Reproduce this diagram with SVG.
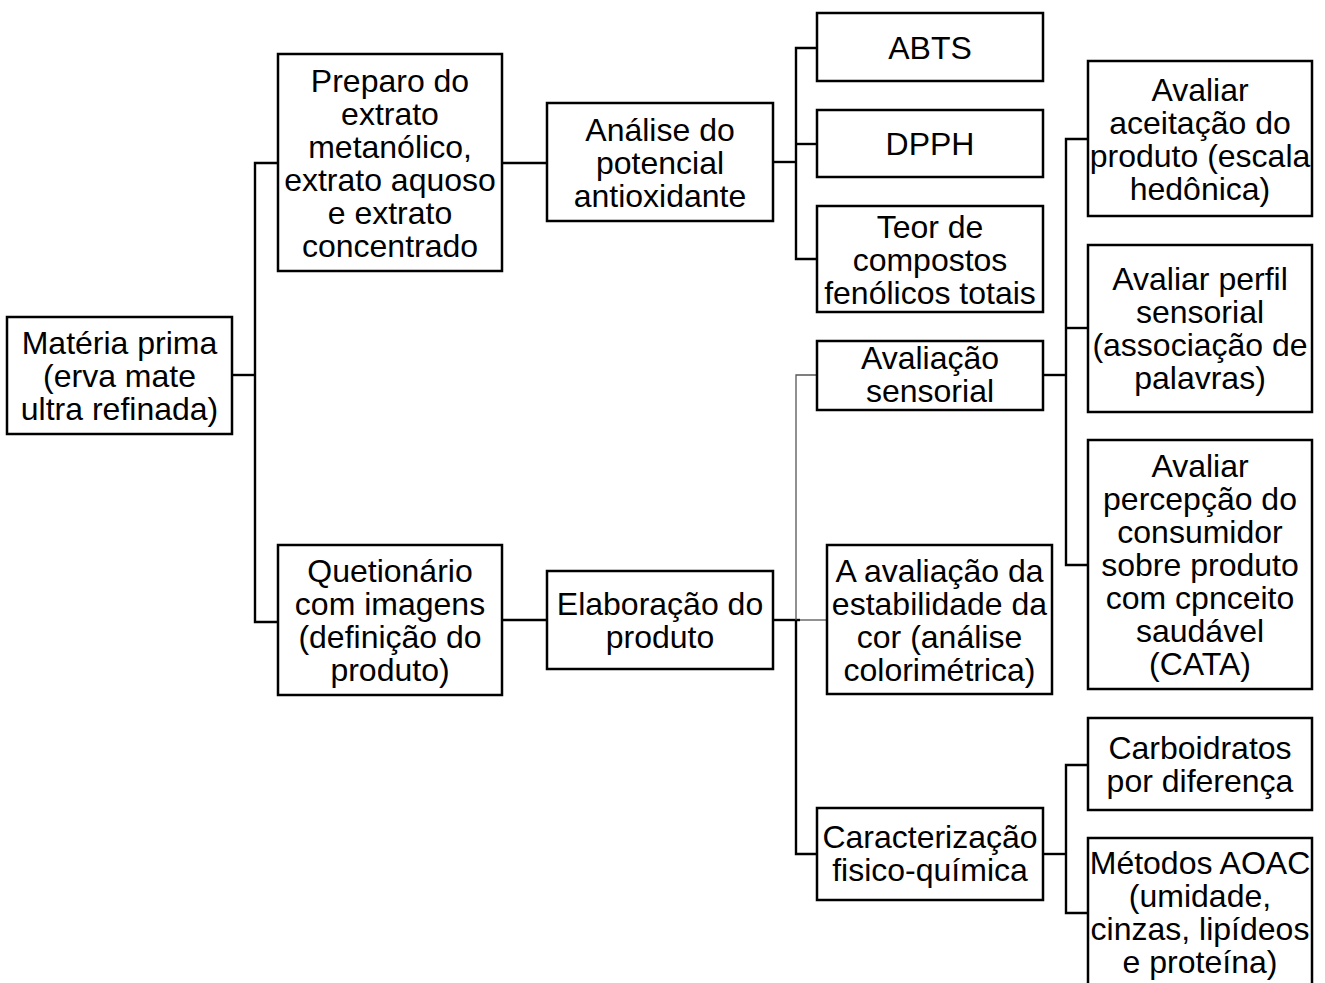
<svg xmlns="http://www.w3.org/2000/svg" width="1325" height="983" viewBox="0 0 1325 983">
<style>
.box{fill:#fff;stroke:#000;stroke-width:2.5}
.t{font-family:"Liberation Sans",Arial,sans-serif;font-size:32px;fill:#000;text-anchor:middle}
.c{fill:none;stroke:#000;stroke-width:2.4}
.thin{fill:none;stroke:#555;stroke-width:1.3}
</style>
<rect width="1325" height="983" fill="#fff"/>
<g id="connectors">
<polyline class="c" points="232,375 255,375"/>
<polyline class="c" points="278,163 255,163 255,622 278,622"/>
<polyline class="c" points="502,163 547,163"/>
<polyline class="c" points="502,620 547,620"/>
<polyline class="c" points="773,162 796,162"/>
<polyline class="c" points="817,48 796,48 796,259 817,259"/>
<polyline class="c" points="796,144 817,144"/>
<polyline class="c" points="773,620 800,620"/>
<polyline class="thin" points="800,620 827,620"/>
<polyline class="thin" points="817,375 796,375 796,620"/>
<polyline class="c" points="796,620 796,854 817,854"/>
<polyline class="c" points="1043,375 1066,375"/>
<polyline class="c" points="1088,139 1066,139 1066,565 1088,565"/>
<polyline class="c" points="1066,328 1088,328"/>
<polyline class="c" points="1043,854 1066,854"/>
<polyline class="c" points="1088,765 1066,765 1066,913 1088,913"/>
</g>
<g id="materia"><rect class="box" x="7" y="317" width="225" height="117"/>
<text class="t" x="119.5" y="353.5">Matéria prima</text><text class="t" x="119.5" y="386.5">(erva mate</text><text class="t" x="119.5" y="419.5">ultra refinada)</text></g>
<g id="preparo"><rect class="box" x="278" y="54" width="224" height="217"/>
<text class="t" x="390" y="91.5">Preparo do</text><text class="t" x="390" y="124.5">extrato</text><text class="t" x="390" y="157.5">metanólico,</text><text class="t" x="390" y="190.5">extrato aquoso</text><text class="t" x="390" y="223.5">e extrato</text><text class="t" x="390" y="256.5">concentrado</text></g>
<g id="questionario"><rect class="box" x="278" y="545" width="224" height="150"/>
<text class="t" x="390" y="582">Quetionário</text><text class="t" x="390" y="615">com imagens</text><text class="t" x="390" y="648">(definição do</text><text class="t" x="390" y="681">produto)</text></g>
<g id="analise"><rect class="box" x="547" y="103" width="226" height="118"/>
<text class="t" x="660" y="140.5">Análise do</text><text class="t" x="660" y="173.5">potencial</text><text class="t" x="660" y="206.5">antioxidante</text></g>
<g id="elaboracao"><rect class="box" x="547" y="571" width="226" height="98"/>
<text class="t" x="660" y="615">Elaboração do</text><text class="t" x="660" y="648">produto</text></g>
<g id="abts"><rect class="box" x="817" y="13" width="226" height="68"/>
<text class="t" x="930" y="58.5">ABTS</text></g>
<g id="dpph"><rect class="box" x="817" y="110" width="226" height="67"/>
<text class="t" x="930" y="155">DPPH</text></g>
<g id="teor"><rect class="box" x="817" y="206" width="226" height="106"/>
<text class="t" x="930" y="237.5">Teor de</text><text class="t" x="930" y="270.5">compostos</text><text class="t" x="930" y="303.5">fenólicos totais</text></g>
<g id="sensorial"><rect class="box" x="817" y="341" width="226" height="69"/>
<text class="t" x="930" y="369">Avaliação</text><text class="t" x="930" y="402">sensorial</text></g>
<g id="estabilidade"><rect class="box" x="827" y="545" width="225" height="149"/>
<text class="t" x="939.5" y="581.5">A avaliação da</text><text class="t" x="939.5" y="614.5">estabilidade da</text><text class="t" x="939.5" y="647.5">cor (análise</text><text class="t" x="939.5" y="680.5">colorimétrica)</text></g>
<g id="caracterizacao"><rect class="box" x="817" y="808" width="226" height="92"/>
<text class="t" x="930" y="848">Caracterização</text><text class="t" x="930" y="881">fisico-química</text></g>
<g id="aceitacao"><rect class="box" x="1088" y="61" width="224" height="155"/>
<text class="t" x="1200" y="100.5">Avaliar</text><text class="t" x="1200" y="133.5">aceitação do</text><text class="t" x="1200" y="166.5">produto (escala</text><text class="t" x="1200" y="199.5">hedônica)</text></g>
<g id="perfil"><rect class="box" x="1088" y="245" width="224" height="167"/>
<text class="t" x="1200" y="290">Avaliar perfil</text><text class="t" x="1200" y="323">sensorial</text><text class="t" x="1200" y="356">(associação de</text><text class="t" x="1200" y="389">palavras)</text></g>
<g id="percepcao"><rect class="box" x="1088" y="440" width="224" height="249"/>
<text class="t" x="1200" y="476.5">Avaliar</text><text class="t" x="1200" y="509.5">percepção do</text><text class="t" x="1200" y="542.5">consumidor</text><text class="t" x="1200" y="575.5">sobre produto</text><text class="t" x="1200" y="608.5">com cpnceito</text><text class="t" x="1200" y="641.5">saudável</text><text class="t" x="1200" y="674.5">(CATA)</text></g>
<g id="carboidratos"><rect class="box" x="1088" y="718" width="224" height="92"/>
<text class="t" x="1200" y="759">Carboidratos</text><text class="t" x="1200" y="792">por diferença</text></g>
<g id="aoac"><rect class="box" x="1088" y="838" width="224" height="160"/>
<text class="t" x="1200" y="874">Métodos AOAC</text><text class="t" x="1200" y="907">(umidade,</text><text class="t" x="1200" y="940">cinzas, lipídeos</text><text class="t" x="1200" y="973">e proteína)</text></g>
</svg>
